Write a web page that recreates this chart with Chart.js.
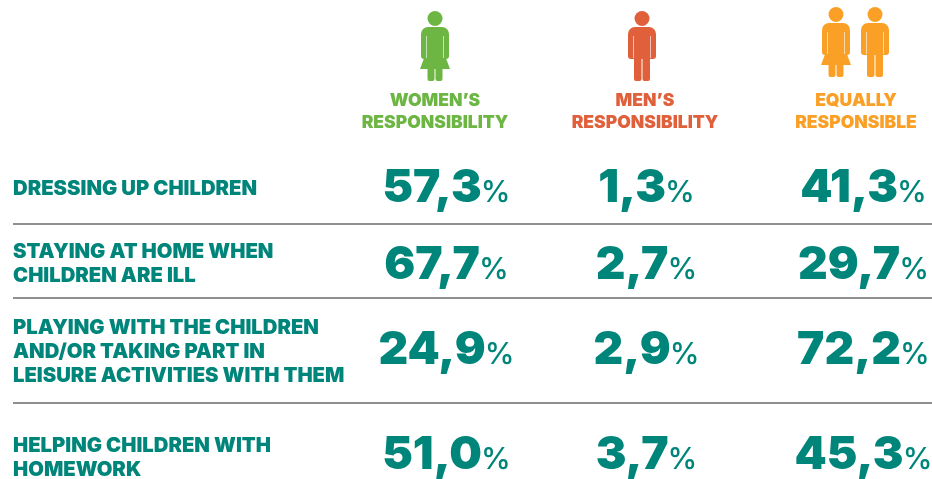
<!DOCTYPE html>
<html>
<head>
<meta charset="utf-8">
<title>Childcare responsibility</title>
<script src="https://cdn.jsdelivr.net/npm/chart.js@4"></script>
<style>
  html, body { margin: 0; background: #fff; }
  canvas { display: block; }
</style>
</head>
<body>
<canvas id="careChart" width="932" height="479"></canvas>
<script>
const rowLabels = [
  ["DRESSING UP CHILDREN"],
  ["STAYING AT HOME WHEN", "CHILDREN ARE ILL"],
  ["PLAYING WITH THE CHILDREN", "AND/OR TAKING PART IN", "LEISURE ACTIVITIES WITH THEM"],
  ["HELPING CHILDREN WITH", "HOMEWORK"],
];
const groupLabels = [
  ["WOMEN\u2019S", "RESPONSIBILITY"],
  ["MEN\u2019S", "RESPONSIBILITY"],
  ["EQUALLY", "RESPONSIBLE"],
];
const womenValues = [57.3, 67.7, 24.9, 51.0];
const menValues = [1.3, 2.7, 2.9, 3.7];
const equalValues = [41.3, 29.7, 72.2, 45.3];

// layout, in pixels of the picture
const groupColors = ["#6DB644", "#E0603B", "#FBA026"];
const headerX = [435, 645, 856];
const columnX = [447, 647, 864];
const rowLabelY = [189, 264, 352, 458];
const rowValueY = [185, 262, 347, 452];
const separatorY = [223.5, 298, 403];
const teal = "#00857A";
const chartTop = 134;
const headerTop = 92;

function columnData(values, col) {
  return values.map((v, i) => ({ x: columnX[col], y: rowValueY[i], value: v }));
}

// one person icon, cx = centre, top = top of the head
function drawPerson(ctx, cx, top, color, woman) {
  ctx.save();
  ctx.fillStyle = color;
  ctx.beginPath();
  ctx.arc(cx, top + 7.5, 7.5, 0, Math.PI * 2);
  ctx.fill();

  ctx.beginPath();
  ctx.roundRect(cx - 14, top + 16, 28, 32, [7, 7, 3, 3]);
  ctx.fill();
  if (woman) {
    ctx.beginPath();
    ctx.moveTo(cx - 9, top + 42);
    ctx.lineTo(cx + 9, top + 42);
    ctx.lineTo(cx + 15, top + 58);
    ctx.lineTo(cx - 15, top + 58);
    ctx.closePath();
    ctx.fill();
    ctx.beginPath();
    ctx.roundRect(cx - 7.5, top + 55, 7, 15, 2);
    ctx.roundRect(cx + 0.5, top + 55, 7, 15, 2);
    ctx.fill();
  } else {
    ctx.beginPath();
    ctx.roundRect(cx - 8, top + 40, 7.5, 30, 2);
    ctx.roundRect(cx + 0.5, top + 40, 7.5, 30, 2);
    ctx.fill();
  }
  // slits between arms and body
  ctx.strokeStyle = "rgba(255,255,255,0.6)";
  ctx.lineWidth = 1;
  ctx.beginPath();
  ctx.moveTo(cx - 8.5, top + 25);
  ctx.lineTo(cx - 8.5, top + 47);
  ctx.moveTo(cx + 8.5, top + 25);
  ctx.lineTo(cx + 8.5, top + 47);
  ctx.stroke();
  ctx.restore();
}

// icons above the headers and value labels on the points
const tablePlugin = {
  id: "tablePlugin",
  afterDatasetsDraw(chart) {
    const ctx = chart.ctx;
    drawPerson(ctx, 435, 11, groupColors[0], true);
    drawPerson(ctx, 642, 11, groupColors[1], false);
    drawPerson(ctx, 836, 7, groupColors[2], true);
    drawPerson(ctx, 875, 7, groupColors[2], false);

    chart.data.datasets.forEach((ds, d) => {
      chart.getDatasetMeta(d).data.forEach((pt, i) => {
        const num = ds.data[i].value.toFixed(1).replace(".", ",");
        ctx.save();
        ctx.fillStyle = teal;
        ctx.textBaseline = "alphabetic";
        ctx.textAlign = "left";
        ctx.font = "900 46px Inter";
        const numW = ctx.measureText(num).width;
        ctx.font = "500 30px Inter";
        const pctW = ctx.measureText("%").width;
        const left = pt.x - (numW + pctW) / 2;
        ctx.fillText("%", left + numW - 1, pt.y + 17);
        ctx.font = "900 46px Inter";
        ctx.fillText(num, left, pt.y + 17);
        ctx.restore();
      });
    });
  },
};

new Chart(document.getElementById("careChart"), {
  type: "scatter",
  plugins: [tablePlugin],
  data: {
    datasets: [
      { label: "Women's responsibility", data: columnData(womenValues, 0), pointRadius: 0 },
      { label: "Men's responsibility", data: columnData(menValues, 1), pointRadius: 0 },
      { label: "Equally responsible", data: columnData(equalValues, 2), pointRadius: 0 },
    ],
  },
  options: {
    responsive: false,
    animation: false,
    layout: { padding: { left: 13, right: 0, top: headerTop, bottom: 0 } },
    plugins: { legend: { display: false }, tooltip: { enabled: false } },
    scales: {
      x: {
        type: "linear",
        position: "top",
        min: 13,
        max: 932,
        grid: { display: false, drawTicks: false },
        border: { display: false },
        afterBuildTicks: (s) => { s.ticks = headerX.map((v) => ({ value: v })); },
        afterFit: (s) => { s.height = chartTop - headerTop; s.paddingLeft = 0; s.paddingRight = 0; },
        ticks: {
          autoSkip: false,
          maxRotation: 0,
          padding: 0,
          color: (c) => groupColors[c.index],
          font: { family: "Inter", weight: "900", size: 17.5, lineHeight: 22 / 17.5 },
          callback: (v, i) => groupLabels[i],
        },
      },
      y: {
        type: "linear",
        position: "left",
        reverse: true,
        min: chartTop,
        max: 479,
        grid: { display: false, drawTicks: false },
        border: { display: false },
        afterBuildTicks: (s) => { s.ticks = rowLabelY.map((v) => ({ value: v })); },
        // the last label hangs below the plot, keep the area full height
        afterFit: (s) => { s.paddingTop = 0; s.paddingBottom = 0; },
        ticks: {
          mirror: true,
          padding: 0,
          autoSkip: false,
          color: teal,
          font: { family: "Inter", weight: "900", size: 20.25, lineHeight: 24 / 20.25 },
          callback: (v, i) => rowLabels[i],
        },
      },
      ySep: {
        type: "linear",
        position: "left",
        reverse: true,
        min: chartTop,
        max: 479,
        border: { display: false },
        grid: { color: "#8F8F8F", lineWidth: 2, drawTicks: false },
        afterBuildTicks: (s) => { s.ticks = separatorY.map((v) => ({ value: v })); },
        ticks: { display: false },
      },
    },
  },
});
</script>
</body>
</html>
